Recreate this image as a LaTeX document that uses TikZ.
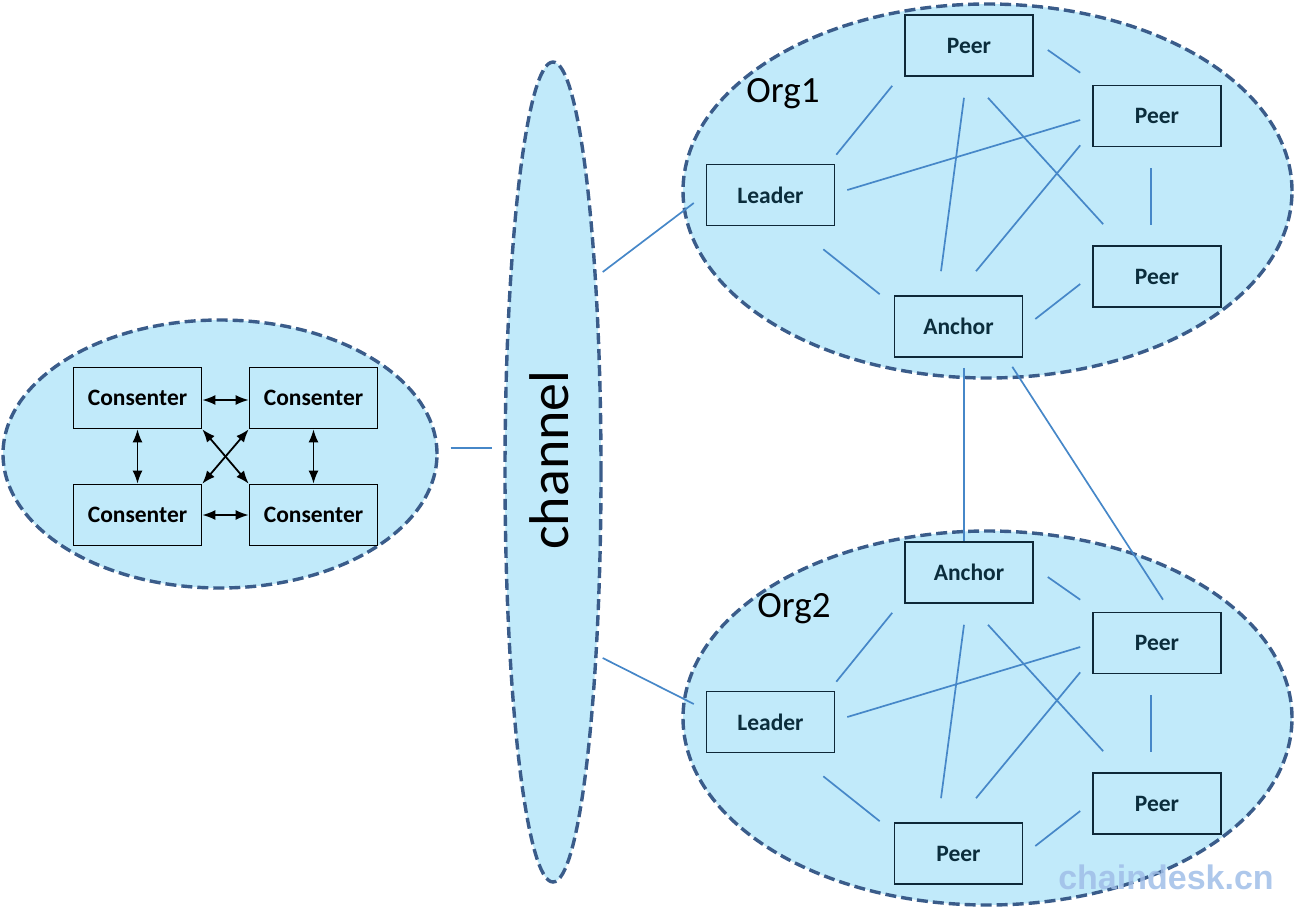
\documentclass[tikz,border=0pt]{standalone}
\usepackage{fontspec}
\setmainfont{Carlito}
\newfontfamily\wmfont{Liberation Sans}
\usetikzlibrary{shapes.geometric,arrows.meta}
\definecolor{areafill}{RGB}{193,234,250}
\definecolor{arealine}{RGB}{58,92,138}
\definecolor{lnkcol}{RGB}{70,135,200}
\definecolor{boxline}{RGB}{14,40,56}
\definecolor{boxtext}{RGB}{11,45,60}
\definecolor{wmcol}{RGB}{160,190,232}
\tikzset{
  area/.style={ellipse, draw=arealine, fill=areafill, line width=3.4pt,
    dash pattern=on 11pt off 5pt, inner sep=0pt},
  obox/.style={draw=boxline, line width=1.6pt, minimum width=128pt, minimum height=61pt,
    inner sep=0pt, font=\bfseries\fontsize{23.5}{27}\selectfont, text=boxtext},
  cbox/.style={draw=black, line width=1.6pt, minimum width=128pt, minimum height=61pt,
    inner sep=0pt, font=\bfseries\fontsize{23.5}{27}\selectfont, text=black},
  lnk/.style={draw=lnkcol, line width=1.7pt},
  biarrow/.style={draw=black, line width=1.8pt, {Latex[length=13pt,width=10pt]}-{Latex[length=13pt,width=10pt]}},
  orglabel/.style={font=\fontsize{37}{40}\selectfont, text=black, inner sep=0pt}
}
\newcommand\orgnet[5]{%
  \begin{scope}[shift={(0,#2)}]
    \node[obox] (#1t) at (969,45.5) {#3};
    \node[obox] (#1r) at (1157,116) {Peer};
    \node[obox] (#1l) at (770.5,195) {Leader};
    \node[obox] (#1b) at (1157,276.5) {Peer};
    \node[obox] (#1a) at (958.5,326.5) {#4};
    \node[orglabel] (#1lab) at #5 {#1};
    \draw[lnk] ([shift={(1,-9)}]#1l.north east) -- ([shift={(-12,9)}]#1t.south west);
    \draw[lnk] ([shift={(12,-5)}]#1l.east) -- ([shift={(-12,4)}]#1r.west);
    \draw[lnk] ([shift={(-12,23)}]#1l.south east) -- ([shift={(-14,-1)}]#1a.north west);
    \draw[lnk] ([shift={(-5,21)}]#1t.south) -- ([shift={(-17.5,-24)}]#1a.north);
    \draw[lnk] ([shift={(19,21)}]#1t.south) -- ([shift={(11,-21)}]#1b.north west);
    \draw[lnk] ([shift={(14,4.5)}]#1t.east) -- ([shift={(-12,-12)}]#1r.north west);
    \draw[lnk] ([shift={(-12,-2)}]#1r.south west) -- ([shift={(17.5,-24)}]#1a.north);
    \draw[lnk] ([shift={(-6,21)}]#1r.south) -- ([shift={(-6,-20)}]#1b.north);
    \draw[lnk] ([shift={(-12,7.5)}]#1b.west) -- ([shift={(12,-7.5)}]#1a.east);
  \end{scope}}
\begin{document}
\begin{tikzpicture}[x=1pt,y=-1pt]
\useasboundingbox (0,0) rectangle (1295,908);
% areas
\node[area, minimum width=434pt, minimum height=268pt] (cons) at (220,454) {};
\node[area, minimum width=96pt, minimum height=820pt] (chan) at (553,472) {};
\node[area, minimum width=609pt, minimum height=374pt] (org1) at (987.5,191) {};
\node[area, minimum width=609pt, minimum height=374pt] (org2) at (987.5,718) {};
\node[rotate=90, font=\fontsize{56}{60}\selectfont, inner sep=0pt] (chanlab) at (549,460) {channel};
% consenters
\node[cbox] (c1) at (137.5,398) {Consenter};
\node[cbox] (c2) at (313.5,398) {Consenter};
\node[cbox] (c3) at (137.5,515) {Consenter};
\node[cbox] (c4) at (313.5,515) {Consenter};
\draw[biarrow] ([shift={(0,2)}]c1.east) -- ([shift={(0,2)}]c2.west);
\draw[biarrow] (c3.east) -- (c4.west);
\draw[biarrow] (c1.south) -- (c3.north);
\draw[biarrow] (c2.south) -- (c4.north);
\draw[biarrow] (c1.south east) -- (c4.north west);
\draw[biarrow] (c2.south west) -- (c3.north east);
% orgs
\orgnet{Org1}{0}{Peer}{Anchor}{(783,94)}
\orgnet{Org2}{527}{Anchor}{Peer}{(794,82)}
% inter-area links
\draw[lnk] ([shift={(12,-6)}]cons.east) -- ([shift={(-11,-24)}]chan.west);
\draw[lnk] ([shift={(0,-200)}]chan.east) -- ([shift={(12.5,12)}]org1.west);
\draw[lnk] ([shift={(0,186)}]chan.east) -- ([shift={(12.5,-14)}]org2.west);
\draw[lnk] ([shift={(5.5,10)}]Org1a.south) -- ([shift={(-5,0)}]Org2t.north);
\draw[lnk] ([shift={(-11,9)}]Org1a.south east) -- ([shift={(6,-12)}]Org2r.north);
% watermark
\node[font=\wmfont\bfseries\fontsize{34}{36}\selectfont, text=wmcol, text opacity=0.85, inner sep=0pt] (wm) at (1166,877) {chaindesk.cn};
\end{tikzpicture}
\end{document}
